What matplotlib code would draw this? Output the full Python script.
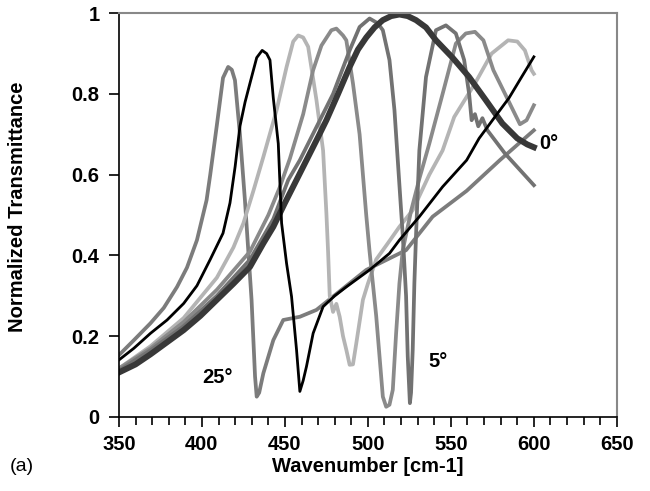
import matplotlib
matplotlib.use("Agg")
import matplotlib.pyplot as plt
from matplotlib import ticker

plt.rcParams['font.family'] = ['Liberation Sans', 'DejaVu Sans']

# 0 deg (thick dark curve, no notch)
x0 = [350, 360, 369, 379, 389, 399, 409, 419, 429, 437, 443, 450, 457, 463, 469, 475, 482, 489, 494, 499, 504, 509, 514, 519, 524, 529, 535, 541, 551, 561, 571, 581, 590, 596, 600]
y0 = [0.11, 0.13, 0.155, 0.185, 0.215, 0.25, 0.29, 0.33, 0.372, 0.43, 0.471, 0.53, 0.587, 0.636, 0.685, 0.735, 0.80, 0.867, 0.91, 0.94, 0.965, 0.983, 0.993, 0.997, 0.993, 0.983, 0.965, 0.933, 0.89, 0.842, 0.785, 0.727, 0.69, 0.675, 0.668]

# 5 deg
x5 = [350, 369, 389, 409, 429, 443, 452, 459, 469, 479, 489, 495, 501, 506, 509, 513, 516, 518, 521, 523, 524, 525.3, 526, 527, 528, 529, 531, 535, 541, 547, 553, 558, 561, 562.5, 564.5, 566.5, 569, 572, 582.5, 600]
y5 = [0.115, 0.165, 0.225, 0.30, 0.39, 0.49, 0.587, 0.636, 0.718, 0.80, 0.908, 0.966, 0.987, 0.975, 0.958, 0.884, 0.76, 0.636, 0.45, 0.30, 0.15, 0.034, 0.06, 0.166, 0.331, 0.45, 0.66, 0.842, 0.958, 0.97, 0.95, 0.884, 0.80, 0.735, 0.75, 0.72, 0.74, 0.71, 0.653, 0.574]

# 10 deg
x10 = [350, 369, 389, 409, 429, 440, 447, 453, 461, 467, 472, 478, 481, 485, 487, 491, 495, 499, 501, 505, 509, 511, 513, 515, 517, 519, 521, 526, 531, 537, 545, 553, 559, 564.5, 569.6, 575.6, 583.5, 591.6, 595.6, 600]
y10 = [0.12, 0.17, 0.235, 0.315, 0.41, 0.50, 0.57, 0.64, 0.75, 0.859, 0.92, 0.958, 0.962, 0.945, 0.933, 0.826, 0.70, 0.50, 0.41, 0.25, 0.05, 0.025, 0.03, 0.067, 0.207, 0.331, 0.413, 0.51, 0.59, 0.677, 0.80, 0.925, 0.95, 0.954, 0.933, 0.859, 0.793, 0.725, 0.735, 0.772]

# 15 deg
x15 = [350, 369, 389, 409, 419, 425, 431, 437, 445, 451, 455, 458, 461, 464, 469, 473, 475, 476, 477, 479, 481, 483, 485, 487, 489, 491, 493, 497, 500, 505, 512, 519, 527, 537, 545, 552, 564.5, 574.5, 584.5, 590, 594.6, 598.6, 600]
y15 = [0.12, 0.175, 0.245, 0.345, 0.42, 0.48, 0.56, 0.644, 0.76, 0.867, 0.93, 0.945, 0.94, 0.917, 0.785, 0.66, 0.504, 0.41, 0.30, 0.26, 0.28, 0.248, 0.20, 0.166, 0.129, 0.13, 0.182, 0.29, 0.33, 0.39, 0.43, 0.471, 0.512, 0.60, 0.66, 0.743, 0.826, 0.90, 0.933, 0.93, 0.908, 0.859, 0.85]

# 20 deg
x20 = [350, 359, 369, 379, 389, 397, 405, 412.7, 416.9, 420, 422.9, 426, 428.9, 433, 436.3, 439, 441, 443, 446, 448, 451, 454, 457, 459, 461, 463, 467, 473, 480, 487, 501, 513, 519, 531, 545, 559.5, 567, 576.5, 585, 592.6, 600]
y20 = [0.141, 0.17, 0.207, 0.24, 0.281, 0.325, 0.39, 0.455, 0.53, 0.62, 0.72, 0.78, 0.826, 0.89, 0.908, 0.90, 0.884, 0.79, 0.677, 0.48, 0.38, 0.298, 0.166, 0.063, 0.09, 0.125, 0.207, 0.273, 0.30, 0.322, 0.364, 0.405, 0.438, 0.496, 0.57, 0.636, 0.69, 0.743, 0.79, 0.842, 0.892]

# 25 deg
x25 = [350, 359, 369, 377, 385, 391, 397, 402.8, 405, 408.9, 412.7, 415.8, 418, 419.9, 422.9, 425.9, 429.9, 432, 433, 434.5, 437, 443, 449, 459, 469, 479, 499, 523, 539, 559.5, 579.5, 600]
y25 = [0.153, 0.19, 0.232, 0.27, 0.322, 0.37, 0.438, 0.537, 0.60, 0.72, 0.84, 0.867, 0.86, 0.834, 0.70, 0.537, 0.29, 0.10, 0.05, 0.06, 0.108, 0.19, 0.24, 0.248, 0.265, 0.298, 0.364, 0.413, 0.496, 0.56, 0.636, 0.71]

fig = plt.figure(figsize=(6.5, 4.91), dpi=100)
ax = fig.add_axes([0.183, 0.151, 0.766, 0.822])

ax.plot(x25, y25, color='#7c7c7c', lw=2.7)
ax.plot(x15, y15, color='#b4b4b4', lw=2.7)
ax.plot(x10, y10, color='#8a8a8a', lw=2.7)
ax.plot(x5, y5, color='#727272', lw=2.7)
ax.plot(x0, y0, color='#383838', lw=4.3)
ax.plot(x20, y20, color='#000000', lw=2.0)

ax.set_xlim(350, 650)
ax.set_ylim(0, 1)
ax.xaxis.set_major_locator(ticker.MultipleLocator(50))
ax.xaxis.set_minor_locator(ticker.MultipleLocator(10))
ax.yaxis.set_major_locator(ticker.MultipleLocator(0.2))
ax.yaxis.set_major_formatter(ticker.FuncFormatter(lambda v, p: '%g' % round(v, 1)))
ax.tick_params(axis='both', which='major', direction='out', length=7, width=1.2,
               labelsize=14.5)
ax.tick_params(axis='y', which='major', pad=7)
ax.tick_params(axis='x', which='major', pad=6)
ax.tick_params(axis='x', which='minor', direction='out', length=6, width=1.2)
for lab in ax.get_xticklabels() + ax.get_yticklabels():
    lab.set_fontweight('bold')

ax.spines['left'].set_color('black')
ax.spines['bottom'].set_color('black')
ax.spines['left'].set_linewidth(1.2)
ax.spines['bottom'].set_linewidth(1.2)
ax.spines['top'].set_color('#888888')
ax.spines['right'].set_color('#888888')
ax.spines['top'].set_linewidth(1.5)
ax.spines['right'].set_linewidth(1.5)

ax.set_xlabel("Wavenumber [cm-1]", fontsize=14.5, fontweight='bold', va='center')
ax.set_ylabel("Normalized Transmittance", fontsize=14.5, fontweight='bold', va='center')
ax.xaxis.set_label_coords(0.5, -0.124)
ax.yaxis.set_label_coords(-0.203, 0.52)

ax.text(603, 0.678, "0°", fontsize=14.5, fontweight='bold', ha='left', va='center')
ax.text(409.5, 0.097, "25°", fontsize=14.5, fontweight='bold', ha='center', va='center')
ax.text(542, 0.137, "5°", fontsize=14.5, fontweight='bold', ha='center', va='center')
fig.text(0.034, 0.049, "(a)", fontsize=14, ha='center', va='center')

plt.savefig("out.png", dpi=100)
